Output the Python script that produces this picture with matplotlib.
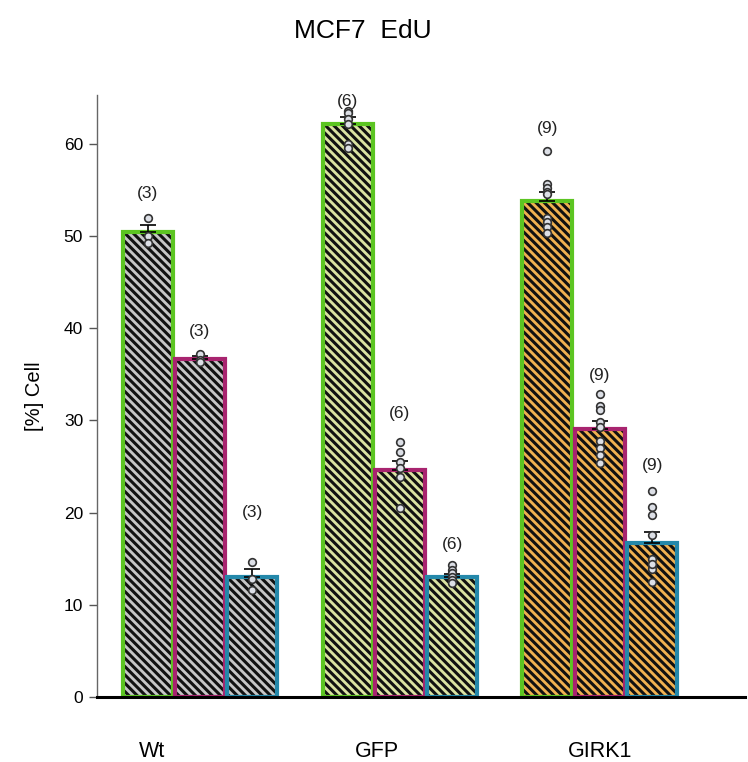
import matplotlib.pyplot as plt
import numpy as np

plt.rcParams['font.family'] = ['Liberation Sans', 'DejaVu Sans']
plt.rcParams['hatch.linewidth'] = 2.2

groups = ['Wt', 'GFP', 'GIRK1']

# bar heights (mean %) per group, one value per condition
means = {
    'Wt':    [50.4, 36.7, 13.0],
    'GFP':   [62.2, 24.6, 13.0],
    'GIRK1': [53.8, 29.1, 16.7],
}

# individual replicate values
points = {
    'Wt': [[52.0, 50.0, 49.2],
           [37.2, 36.6, 36.3],
           [14.6, 12.8, 11.6]],
    'GFP': [[63.6, 63.3, 62.7, 62.2, 60.0, 59.5],
            [27.7, 26.6, 25.5, 24.8, 23.9, 20.5],
            [14.3, 13.8, 13.4, 13.0, 12.7, 12.4]],
    'GIRK1': [[59.2, 55.6, 55.2, 54.8, 54.6, 52.0, 51.5, 51.0, 50.3],
              [32.9, 31.6, 31.1, 29.8, 29.3, 27.8, 27.0, 26.2, 25.4],
              [22.3, 20.6, 19.7, 17.6, 15.0, 14.3, 13.9, 14.4, 12.5]],
}

# where the (n) labels sit
label_y = {
    'Wt':    [54.6, 39.6, 20.0],
    'GFP':   [64.6, 30.8, 16.5],
    'GIRK1': [61.7, 34.9, 25.1],
}

fill_colors = {'Wt': '#c6c6c6', 'GFP': '#dbe3a2', 'GIRK1': '#f0b150'}
edge_colors = ['#5cc522', '#a8246f', '#2488aa']

fig = plt.figure(figsize=(7.48, 7.62), dpi=100)
ax = fig.add_axes([0.1297, 0.0853, 0.866, 0.79])

width = 0.262
offsets = [-width, 0, width]

for gi, g in enumerate(groups):
    for ci in range(3):
        x = gi + offsets[ci]
        h = means[g][ci]
        # hatched fill
        ax.bar(x, h, width, color=fill_colors[g], hatch='\\\\\\\\',
               edgecolor='#111111', linewidth=0, zorder=2)
        # coloured outline
        ax.bar(x, h, width - 0.012, fill=False, edgecolor=edge_colors[ci],
               linewidth=3, zorder=3)
        pts = np.array(points[g][ci])
        sem = pts.std(ddof=1) / np.sqrt(len(pts))
        ax.errorbar(x, h, yerr=[[0], [sem]], fmt='none', ecolor='black',
                    elinewidth=1.2, capsize=6, capthick=1.2, zorder=4)
        ax.plot(np.full(len(pts), x), pts, 'o', ms=5.5, mfc='#dcdfe6',
                mec='#333333', mew=1.2, zorder=5)
        ax.text(x, label_y[g][ci], f'({len(pts)})', ha='center', va='center',
                fontsize=12.5, color='#222222')

ax.set_xlim(-0.515, 2.725)
ax.set_ylim(0, 65.3)
ax.set_yticks(range(0, 61, 10))
ax.set_xticks([-0.24, 0.885, 2.0])
ax.set_xticklabels(groups, fontsize=15.5)
ax.tick_params(axis='x', length=0, pad=32)
ax.tick_params(axis='y', length=6, width=1, color='#555555', labelsize=12.5, pad=4)
ax.set_ylabel('[%] Cell', fontsize=14.5, labelpad=14)

for s in ['top', 'right']:
    ax.spines[s].set_visible(False)
ax.spines['left'].set_color('#666666')
ax.spines['left'].set_linewidth(1)
ax.spines['bottom'].set_color('black')
ax.spines['bottom'].set_linewidth(2.2)
ax.spines['bottom'].set_zorder(6)

fig.suptitle('MCF7  EdU', fontsize=19, x=0.485, y=0.975)

plt.savefig('out.png', dpi=100)
